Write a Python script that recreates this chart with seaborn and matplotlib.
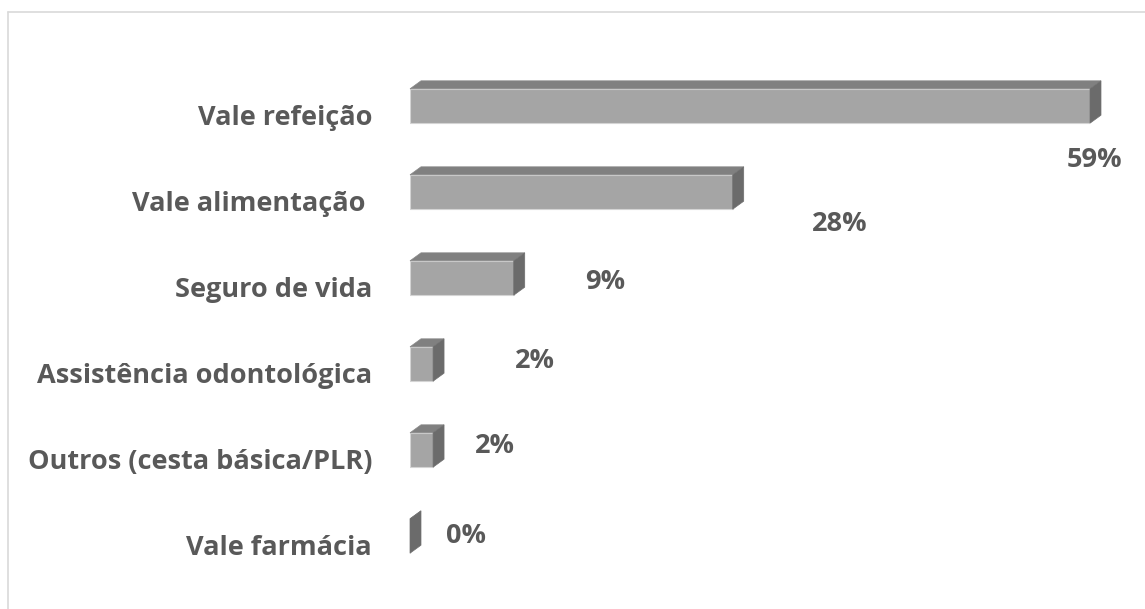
import numpy as np
import pandas as pd
import seaborn as sns
import matplotlib.pyplot as plt
from matplotlib.patches import Polygon
from matplotlib.lines import Line2D
from matplotlib.transforms import ScaledTranslation

# data
categories = ["Vale refeição", "Vale alimentação ", "Seguro de vida",
              "Assistência odontológica", "Outros (cesta básica/PLR)", "Vale farmácia"]
values = [59, 28, 9, 2, 2, 0]
value_labels = ["59%", "28%", "9%", "2%", "2%", "0%"]

# where excel dropped the value labels (pixels from bar end / bar centre)
label_dx = [5, 107, 91, 102, 62, 56]
label_dy = [54, 32, 4, -3, -4, 0]

df = pd.DataFrame({"cat": categories, "val": values})

sns.set_style("white")
plt.rcParams["font.family"] = ["Open Sans", "DejaVu Sans"]
txt_color = "#595959"
fs = 19.5

W, H = 1145, 609
fig = plt.figure(figsize=(W / 100, H / 100), dpi=100)
ax = fig.add_axes([410 / W, 1 - 579 / H, 680 / W, 516 / H])

sns.barplot(data=df, x="val", y="cat", orient="h", color="#a5a5a5",
            saturation=1, width=0.4, edgecolor="#d4d4d4", linewidth=0.8, ax=ax)
ax.set_xlim(0, 59)
ax.set_ylim(5.5, -0.5)
sns.despine(ax=ax, left=True, bottom=True)
ax.set_xticks([])
ax.set_xlabel("")
ax.set_ylabel("")

# fake 3d: top and side faces, offset in pixels
dx, dy = 11, 8
to_data = ax.transData.inverted()
for bar in ax.patches:
    x0, y0 = bar.get_x(), bar.get_y()
    x1, y1 = x0 + bar.get_width(), y0 + bar.get_height()
    # display coords (y0 is top in inverted axis)
    (px0, ptop), (px1, pbot) = ax.transData.transform([(x0, y0), (x1, y1)])
    top = [(px0, ptop), (px1, ptop), (px1 + dx, ptop + dy), (px0 + dx, ptop + dy)]
    side = [(px1, ptop), (px1 + dx, ptop + dy), (px1 + dx, pbot + dy), (px1, pbot)]
    ax.add_patch(Polygon(to_data.transform(top), closed=True, fc="#808080",
                         ec="#8a8a8a", lw=0.5, clip_on=False))
    ax.add_patch(Polygon(to_data.transform(side), closed=True, fc="#6b6b6b",
                         ec="#707070", lw=0.5, clip_on=False))

ax.tick_params(axis="y", length=0, pad=38 * 0.72)
off = ScaledTranslation(0, -9 / 100, fig.dpi_scale_trans)
for lab in ax.get_yticklabels():
    lab.set_fontsize(fs)
    lab.set_fontweight("bold")
    lab.set_color(txt_color)
    lab.set_transform(lab.get_transform() + off)

for i, v in enumerate(values):
    ax.annotate(value_labels[i], xy=(v, i), xytext=(label_dx[i] * 0.72, -label_dy[i] * 0.72),
                textcoords="offset points", ha="center", va="center",
                fontsize=fs, fontweight="bold", color=txt_color, annotation_clip=False)

# chart area border (runs off the right and bottom of the picture)
fig.add_artist(Line2D([8 / W, 1], [1 - 11.5 / H, 1 - 11.5 / H], color="#d9d9d9", lw=1.2))
fig.add_artist(Line2D([8 / W, 8 / W], [0, 1 - 11.5 / H], color="#d9d9d9", lw=1.2))

fig.savefig("out.png", dpi=100)
